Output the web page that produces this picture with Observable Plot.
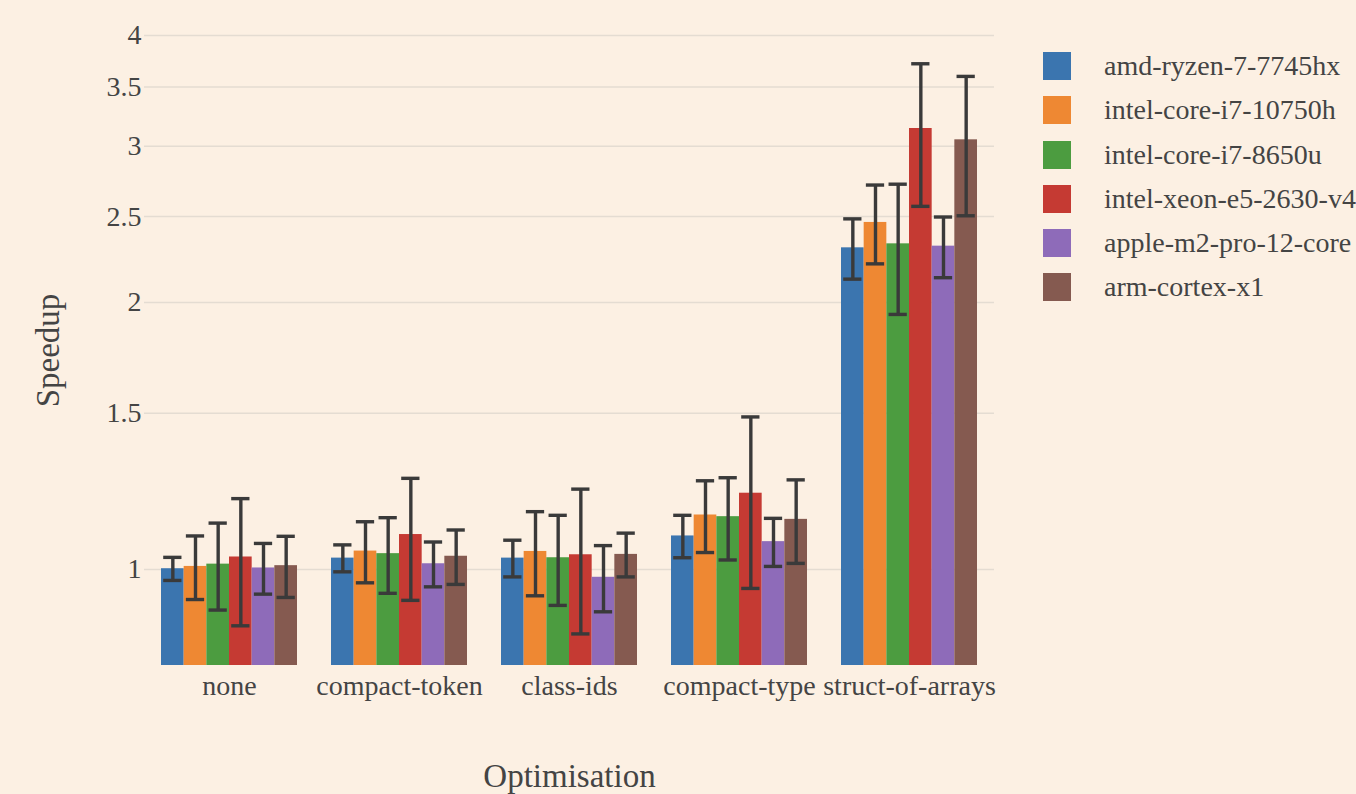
<!DOCTYPE html>
<html>
<head>
<meta charset="utf-8">
<script src="https://cdn.jsdelivr.net/npm/d3@7"></script>
<script src="https://cdn.jsdelivr.net/npm/@observablehq/plot@0.6"></script>
<style>
  html, body { margin: 0; padding: 0; background: #fcf0e3; overflow: hidden; }
  #chart { position: relative; width: 1356px; height: 794px; overflow: hidden; }
  #chart svg { position: absolute; left: 0; top: 0; }
  .legend { position: absolute; left: 1043px; top: 52px; font-family: "Liberation Serif", serif; font-size: 28px; color: #444; }
  .legend .item { display: flex; align-items: center; height: 28px; margin-bottom: 16.3px; white-space: nowrap; }
  .legend .sw { width: 28px; height: 28px; margin-right: 33px; flex: none; }
</style>
</head>
<body>
<div id="chart"></div>
<script>
// Optimisation steps along the x axis
const optimisations = ["none", "compact-token", "class-ids", "compact-type", "struct-of-arrays"];

// Machines (one bar per machine in each group)
const machines = [
  "amd-ryzen-7-7745hx",
  "intel-core-i7-10750h",
  "intel-core-i7-8650u",
  "intel-xeon-e5-2630-v4",
  "apple-m2-pro-12-core",
  "arm-cortex-x1"
];

// Mean speedup per machine, in the order of `optimisations`
const speedupAmd   = [1.002, 1.030, 1.030, 1.091, 2.305];
const speedupI7h   = [1.008, 1.049, 1.048, 1.152, 2.462];
const speedupI7u   = [1.014, 1.042, 1.031, 1.147, 2.329];
const speedupXeon  = [1.033, 1.095, 1.039, 1.219, 3.142];
const speedupM2    = [1.004, 1.015, 0.980, 1.075, 2.315];
const speedupX1    = [1.010, 1.035, 1.040, 1.139, 3.051];

// Spread (± error) per machine
const errorAmd  = [0.030, 0.036, 0.049, 0.060, 0.180];
const errorI7h  = [0.083, 0.083, 0.114, 0.107, 0.251];
const errorI7u  = [0.114, 0.102, 0.120, 0.122, 0.390];
const errorXeon = [0.169, 0.172, 0.193, 0.267, 0.575];
const errorM2   = [0.066, 0.059, 0.084, 0.067, 0.182];
const errorX1   = [0.080, 0.073, 0.059, 0.123, 0.546];

// Y tick values
const yTicks = [1, 1.5, 2, 2.5, 3, 3.5, 4];

const colors = ["#3b75af", "#ee8833", "#4c9c40", "#c53a33", "#8e6bb9", "#855a50"];

const speedups = [speedupAmd, speedupI7h, speedupI7u, speedupXeon, speedupM2, speedupX1];
const errors = [errorAmd, errorI7h, errorI7u, errorXeon, errorM2, errorX1];

const rows = machines.flatMap((m, i) =>
  optimisations.map((o, j) => ({
    opt: o,
    machine: m,
    value: speedups[i][j],
    lo: speedups[i][j] - errors[i][j],
    hi: speedups[i][j] + errors[i][j]
  }))
);

const yFloor = 0.7794;
const font = '"Liberation Serif", serif';
const ink = "#444";

const frame = {
  width: 1356,
  height: 794,
  marginLeft: 144,
  marginRight: 362,
  marginTop: 35,
  marginBottom: 129,
  style: { background: "transparent", fontFamily: font, color: ink, overflow: "visible" }
};
const yScale = { type: "log", domain: [yFloor, 4] };
const band = { domain: optimisations, paddingInner: 0.2, paddingOuter: 0.1, round: false };

// Background layer: grid, axes and titles across the whole frame
const back = Plot.plot({
  ...frame,
  x: { ...band, label: null },
  y: { ...yScale, label: null },
  marks: [
    Plot.gridY(yTicks, { stroke: "#e4dcd2", strokeOpacity: 1, strokeWidth: 1.5 }),
    Plot.axisY(yTicks, { tickSize: 0, tickPadding: 3, fontSize: 28, fill: ink, tickFormat: d => String(d), label: null }),
    Plot.axisX({ tickSize: 0, tickPadding: 10, fontSize: 28, fill: ink, label: null }),
    Plot.text(["Speedup"], { frameAnchor: "left", textAnchor: "middle", dx: -96, rotate: -90, fontSize: 33, fill: ink, lineAnchor: "middle" }),
    Plot.text(["Optimisation"], { frameAnchor: "bottom", dy: 111, fontSize: 33, fill: ink, lineAnchor: "middle" })
  ]
});

// Foreground layer: grouped bars with error bars
const front = Plot.plot({
  ...frame,
  fx: { ...band, axis: null, label: null },
  x: { domain: machines, padding: 0, round: false, axis: null },
  y: { ...yScale, axis: null },
  color: { domain: machines, range: colors },
  marks: [
    Plot.barY(rows, { fx: "opt", x: "machine", y1: yFloor, y2: "value", fill: "machine" }),
    Plot.ruleX(rows, { fx: "opt", x: "machine", y1: "lo", y2: "hi", stroke: "#3a3a3a", strokeWidth: 3.4 }),
    Plot.tickY(rows, { fx: "opt", x: "machine", y: "lo", stroke: "#3a3a3a", strokeWidth: 3.4, insetLeft: 2.2, insetRight: 2.2 }),
    Plot.tickY(rows, { fx: "opt", x: "machine", y: "hi", stroke: "#3a3a3a", strokeWidth: 3.4, insetLeft: 2.2, insetRight: 2.2 })
  ]
});

const chart = document.getElementById("chart");
chart.append(back, front);

// Legend
const legend = document.createElement("div");
legend.className = "legend";
machines.forEach((m, i) => {
  const item = document.createElement("div");
  item.className = "item";
  const sw = document.createElement("span");
  sw.className = "sw";
  sw.style.background = colors[i];
  const label = document.createElement("span");
  label.textContent = m;
  item.append(sw, label);
  legend.append(item);
});
chart.append(legend);
</script>
</body>
</html>
